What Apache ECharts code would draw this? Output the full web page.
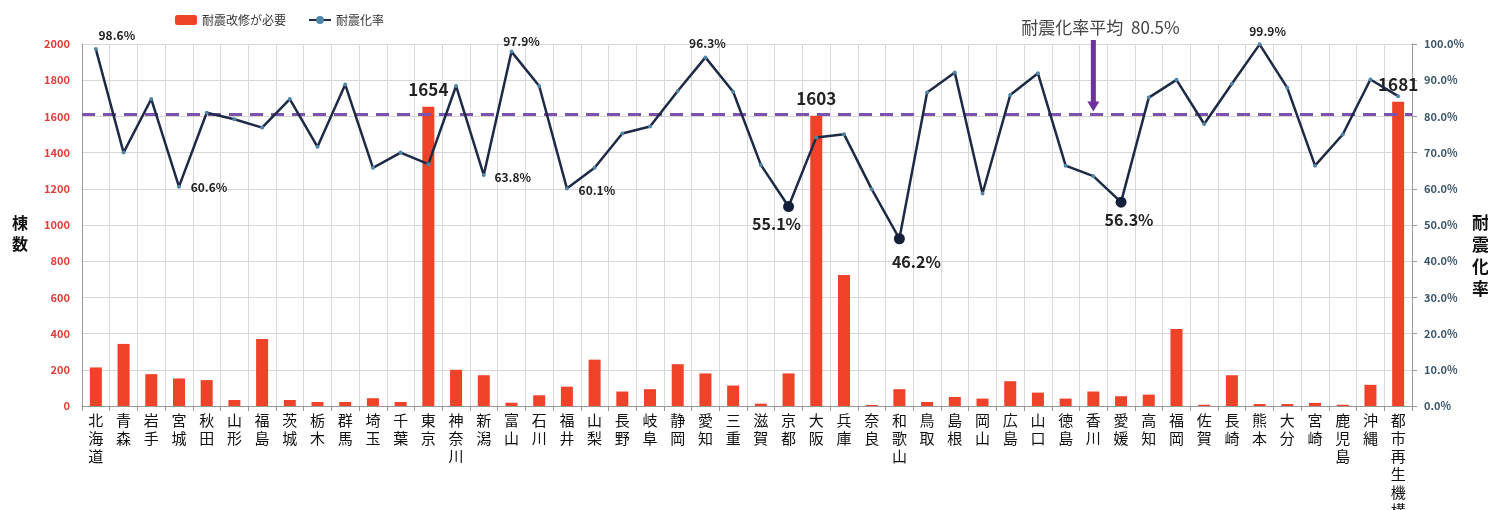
<!DOCTYPE html>
<html><head><meta charset="utf-8">
<script src="https://cdn.jsdelivr.net/npm/echarts@6/dist/echarts.min.js"></script>
<style>html,body{margin:0;padding:0;background:#fff}#c{width:1488px;height:510px}</style>
</head><body><div id="c"></div>
<script>
const categories = ['北海道','青森','岩手','宮城','秋田','山形','福島','茨城','栃木','群馬','埼玉','千葉','東京','神奈川','新潟','富山','石川','福井','山梨','長野','岐阜','静岡','愛知','三重','滋賀','京都','大阪','兵庫','奈良','和歌山','鳥取','島根','岡山','広島','山口','徳島','香川','愛媛','高知','福岡','佐賀','長崎','熊本','大分','宮崎','鹿児島','沖縄','都市再生機構'];
const needRetrofit = [213,343,176,152,143,33,370,33,22,22,43,22,1654,200,170,18,59,107,256,80,93,231,180,113,13,180,1603,724,6,93,22,50,41,137,74,41,80,54,63,426,7,170,11,11,17,7,117,1681];
const rate = [98.6,70.0,84.8,60.6,81.0,79.2,76.9,84.8,71.6,88.8,65.8,70.0,66.8,88.4,63.8,97.9,88.4,60.1,65.8,75.3,77.2,87.0,96.3,86.8,66.6,55.1,74.2,75.1,59.9,46.2,86.6,92.1,58.7,85.9,91.9,66.4,63.5,56.3,85.2,90.1,77.9,89.0,99.9,87.9,66.4,75.0,90.2,85.6];
const avgRate = 80.5;
const leftTicks = {min:0, max:2000, interval:200};
const rightTicks = {min:0, max:100, interval:10};
const seriesNames = ['耐震改修が必要','耐震化率'];
const avgLabel = '耐震化率平均  80.5%';
const leftAxisName = '棟数';
const rightAxisName = '耐震化率';

// label placement (style only)
const rateLabelCfg = {0:[21,-14],3:[30,1],14:[29,2],15:[10,-10],17:[30,2],22:[2,-14],25:[-12,17,1],29:[17,23,1],37:[8,18,1],42:[8,-13]};

const FONT = '"Noto Sans CJK JP","Noto Sans",sans-serif';
const chart = echarts.init(document.getElementById('c'));

const rateData = rate.map((v,i)=>{
  const c = rateLabelCfg[i];
  const item = {value:v};
  if (c) {
    const big = !!c[2];
    item.label = {show:true, position:'inside', offset:[c[0],c[1]], fontSize: big?16:12, fontWeight:'bold', color:'#222', fontFamily:FONT,
      formatter:p=>p.value.toFixed(1)+'%'};
    if (big) { item.symbolSize = 11; item.itemStyle = {color:'#14203a'}; }
  }
  return item;
});

chart.setOption({
  animation:false,
  textStyle:{fontFamily:FONT},
  legend:{left:170, top:9, itemWidth:22, itemHeight:10, itemGap:22, textStyle:{fontSize:12, color:'#333', fontFamily:FONT}, data:seriesNames},
  grid:{left:82, right:76, top:44, bottom:104, containLabel:false, outerBoundsMode:'none'},
  xAxis:{type:'category', data:categories,
    axisLine:{lineStyle:{color:'#999'}},
    axisTick:{show:true, length:5, lineStyle:{color:'#999'}},
    splitLine:{show:true, lineStyle:{color:'#d9d9d9'}},
    axisLabel:{interval:0, margin:5, fontSize:15, lineHeight:18, color:'#111', fontFamily:FONT, formatter:v=>v.split('').join('\n')},
    name:'県名', nameLocation:'middle', nameGap:79, nameTextStyle:{fontSize:15, color:'#111', fontFamily:FONT}
  },
  yAxis:[
    {type:'value', min:leftTicks.min, max:leftTicks.max, interval:leftTicks.interval,
      axisLine:{show:true, lineStyle:{color:'#999'}}, axisTick:{show:false},
      splitLine:{lineStyle:{color:'#d6d6d6'}},
      axisLabel:{color:'#e33b35', fontWeight:'bold', fontSize:11, margin:12, fontFamily:FONT, formatter:v=>String(v)}
    },
    {type:'value', min:rightTicks.min, max:rightTicks.max, interval:rightTicks.interval,
      axisLine:{show:true, lineStyle:{color:'#999'}}, axisTick:{show:true, length:5, lineStyle:{color:'#999'}},
      splitLine:{show:false},
      axisLabel:{color:'#3b5568', fontWeight:'bold', fontSize:11, margin:12, fontFamily:FONT, formatter:v=>v.toFixed(1)+'%'}
    }
  ],
  series:[
    {name:seriesNames[0], type:'bar', yAxisIndex:0, data:needRetrofit, barWidth:12,
      itemStyle:{color:'#ee4229'},
      label:{show:true, position:'top', distance:9, fontSize:17, fontWeight:'bold', color:'#222', fontFamily:FONT,
        formatter:p=>p.value>1000?String(p.value):''}
    },
    {name:seriesNames[1], type:'line', yAxisIndex:1, data:rateData, symbol:'circle', symbolSize:4,
      lineStyle:{color:'#1e2a45', width:2.5}, itemStyle:{color:'#4f86a8'}, z:5,
      markLine:{silent:true, symbol:'none', label:{show:false},
        lineStyle:{color:'#7b52ae', width:3, type:[13,8]},
        data:[{yAxis:avgRate}]}
    }
  ]
});

const ax = chart.convertToPixel({xAxisIndex:0}, '香川');
const ay = chart.convertToPixel({yAxisIndex:1}, avgRate);
chart.setOption({graphic:[
  {type:'text', left:ax-72, top:19, style:{text:avgLabel, fontSize:17, fill:'#444', fontFamily:FONT}},
  {type:'rect', shape:{x:ax-2.5, y:40, width:5, height:ay-52}, style:{fill:'#7030a0'}},
  {type:'polygon', shape:{points:[[ax-6,ay-13],[ax+6,ay-13],[ax,ay-3]]}, style:{fill:'#7030a0'}},
  {type:'text', left:12, top:212, style:{text:leftAxisName.split('').join('\n'), fontSize:16, fontWeight:'bold', lineHeight:21, fill:'#111', fontFamily:FONT}},
  {type:'text', left:1472, top:212, style:{text:rightAxisName.split('').join('\n'), fontSize:17, fontWeight:'bold', lineHeight:22, fill:'#111', fontFamily:FONT}}
]});
</script></body></html>
